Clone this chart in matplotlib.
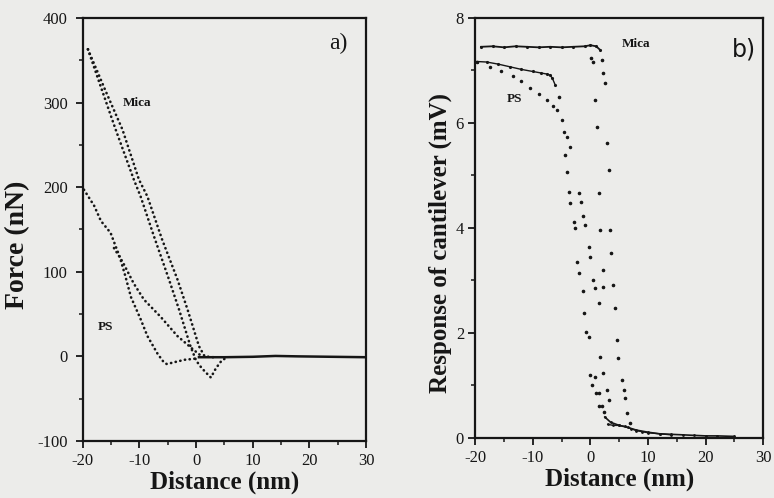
import matplotlib
matplotlib.use("Agg")
import matplotlib.pyplot as plt
from matplotlib.ticker import MultipleLocator

# ---------------- data: panel a) force curves ----------------
mica_a_x = [-19.1, -17, -14.2, -11, -9.8, -7.5, -4.8, -3, -1.0, 0, 1, 2, 2.6, 3.5, 4.5, 5.5]
mica_a_y = [363, 322, 268, 209, 189, 143, 91, 55, 12, -5, -14, -21, -25, -14, -5, -1]
mica_b_x = [-19.1, -16, -13, -10.1, -8.6, -6, -3.3, -1.5, 0.5, 1.5, 3]
mica_b_y = [363, 314, 268, 209, 189, 138, 91, 55, 12, 0, -1]
ps_a_x = [-19.8, -18, -16.8, -15.1, -14.2, -13.5, -12.5, -11.5, -9.8, -8.6, -6.8, -5.7, -5.2, -4.5, -3.3, -2, -0.5, 0.5]
ps_a_y = [197, 178, 160, 146, 130, 118, 95, 70, 44, 24, 3, -7, -9, -8, -6, -4, -3, -2]
ps_b_x = [-14.5, -13, -11, -9.2, -6.3, -3.3, -0.5, 1]
ps_b_y = [128, 112, 86, 67, 47, 24, 8, 0]
base_x = [0.5, 5, 10, 14, 18, 24, 30]
base_y = [-1, -1, -0.5, 0.5, 0, -0.5, -1]

# ---------------- data: panel b) cantilever response ----------------
mica_app_x = [-19, -17, -15, -13, -11, -9, -7, -5, -3, -1, 0, 1, 1.7]
mica_app_y = [7.45, 7.46, 7.44, 7.46, 7.45, 7.44, 7.45, 7.44, 7.45, 7.46, 7.48, 7.46, 7.39]
mica_r1_x = [2.0, 2.2, 2.57, 2.86, 3.15, 3.44, 3.6, 4.0, 4.3, 4.6, 4.78, 5.47, 5.75, 6.04, 6.34, 6.9]
mica_r1_y = [7.2, 6.95, 6.76, 5.61, 5.10, 3.96, 3.52, 2.91, 2.47, 1.87, 1.52, 1.10, 0.91, 0.76, 0.47, 0.28]
mica_r2_x = [0.14, 0.5, 0.83, 1.12, 1.41, 1.7, 2.17, 2.17, 1.41, 1.7, 2.1, 2.86, 3.15]
mica_r2_y = [7.23, 7.16, 6.44, 5.93, 4.66, 3.96, 3.2, 2.88, 2.57, 1.55, 1.23, 0.91, 0.72]
ps_up_x = [-19.7, -18, -16, -14, -12, -10, -8.5, -7.5, -7.0, -6.6, -6.1]
ps_up_y = [7.17, 7.16, 7.12, 7.07, 7.02, 6.98, 6.95, 6.93, 6.91, 6.85, 6.72]
ps_lo_x = [-19.7, -17.4, -15.5, -13.4, -12, -10.5, -9, -7.6, -6.5, -5.8, -4.95, -4.67, -4.1, -3.5]
ps_lo_y = [7.17, 7.07, 6.99, 6.89, 6.80, 6.66, 6.55, 6.44, 6.33, 6.25, 6.06, 5.83, 5.74, 5.55]
ps_d1_x = [-5.5, -4.4, -4.1, -3.8, -3.5, -2.93, -2.64, -2.35, -1.9, -1.3, -1.07, -0.7, -0.3, -0.15, 0.3, 1.0, 1.5, 2.3]
ps_d1_y = [6.5, 5.39, 5.07, 4.69, 4.47, 4.12, 4.0, 3.36, 3.14, 2.79, 2.38, 2.02, 1.93, 1.2, 1.0, 0.85, 0.6, 0.5]
ps_d2_x = [-2.06, -1.6, -1.2, -0.9, -0.3, 0.0, 0.37, 0.83, 0.83, 1.41, 2.0]
ps_d2_y = [4.66, 4.5, 4.22, 4.06, 3.64, 3.45, 3.01, 2.86, 1.17, 0.85, 0.6]
tail_x = [2.5, 3.5, 5, 6.5, 8, 10, 12, 14, 16, 18, 20, 22, 25]
tail_y = [0.40, 0.30, 0.24, 0.20, 0.15, 0.11, 0.08, 0.07, 0.06, 0.05, 0.04, 0.04, 0.03]
tail2_x = [3, 4, 5, 6, 7, 8, 9, 10, 12, 14]
tail2_y = [0.26, 0.24, 0.24, 0.22, 0.18, 0.14, 0.12, 0.10, 0.08, 0.06]

xticks = [-20, -10, 0, 10, 20, 30]

ink = "#161616"
bg = "#ececea"

plt.rcParams['font.family'] = ['Liberation Serif', 'DejaVu Serif']
plt.rcParams['axes.unicode_minus'] = False

fig = plt.figure(figsize=(7.74, 4.98), dpi=100, facecolor=bg)
ax1 = fig.add_axes([0.107, 0.1145, 0.366, 0.8495])
ax2 = fig.add_axes([0.614, 0.1205, 0.372, 0.8435])

for ax in (ax1, ax2):
    ax.set_facecolor(bg)
    for s in ax.spines.values():
        s.set_linewidth(1.6)
        s.set_color(ink)
    ax.tick_params(which='major', direction='out', length=5, width=1.3, colors=ink,
                   labelsize=12)
    ax.tick_params(axis='x', which='major', pad=4)
    ax.tick_params(which='minor', direction='out', length=3, width=1.1, colors=ink)
    ax.set_xlim(-20, 30)
    ax.set_xticks(xticks)
    ax.set_xticklabels([str(t) for t in xticks])
    ax.xaxis.set_minor_locator(MultipleLocator(5))
    ax.set_xlabel("Distance (nm)", fontsize=18, fontweight='bold', color=ink, labelpad=1)

ax1.tick_params(axis='y', which='major', pad=6)
ax2.tick_params(axis='y', which='major', pad=3)

# panel a
dot = dict(color=ink, linestyle=(0, (0.1, 1.7)), linewidth=1.9, dash_capstyle='round')
ax1.plot(mica_a_x, mica_a_y, **dot)
ax1.plot(mica_b_x, mica_b_y, **dot)
ax1.plot(ps_a_x, ps_a_y, **dot)
ax1.plot(ps_b_x, ps_b_y, **dot)
ax1.plot(base_x, base_y, color=ink, linewidth=1.8)
ax1.set_ylim(-100, 400)
ax1.yaxis.set_major_locator(MultipleLocator(100))
ax1.yaxis.set_minor_locator(MultipleLocator(50))
ax1.set_ylabel("Force (nN)", fontsize=20, fontweight='bold', color=ink)
ax1.yaxis.set_label_coords(-0.187, 0.463)
ax1.text(-13, 300, "Mica", fontsize=9.5, fontweight='bold', color=ink, va='center')
ax1.text(-17.3, 35, "PS", fontsize=9.5, fontweight='bold', color=ink, va='center')
ax1.text(23.5, 370, "a)", fontsize=17, color=ink, va='center')

# panel b
ax2.plot(mica_app_x, mica_app_y, color=ink, linewidth=1.3, marker='.', markersize=2.5)
ax2.plot(ps_up_x, ps_up_y, color=ink, linewidth=1.0, marker='.', markersize=2.5)
ax2.plot(ps_lo_x, ps_lo_y, color=ink, linestyle='none', marker='.', markersize=3)
for xs, ys in [(mica_r1_x, mica_r1_y), (mica_r2_x, mica_r2_y),
               (ps_d1_x, ps_d1_y), (ps_d2_x, ps_d2_y)]:
    ax2.plot(xs, ys, color=ink, linestyle='none', marker='.', markersize=3.2)
ax2.plot(tail_x, tail_y, color=ink, linewidth=1.2, marker='.', markersize=2)
ax2.plot(tail2_x, tail2_y, color=ink, linewidth=1.0, marker='.', markersize=2)
ax2.set_ylim(0, 8)
ax2.yaxis.set_major_locator(MultipleLocator(2))
ax2.yaxis.set_minor_locator(MultipleLocator(1))
ax2.set_ylabel("Response of cantilever (mV)", fontsize=18, fontweight='bold', color=ink)
ax2.yaxis.set_label_coords(-0.08, 0.464)
ax2.text(5.5, 7.5, "Mica", fontsize=9.5, fontweight='bold', color=ink, va='center')
ax2.text(-14.5, 6.45, "PS", fontsize=9.5, fontweight='bold', color=ink, va='center')
ax2.text(24.5, 7.4, "b)", fontsize=17, color=ink, va='center', family=['DejaVu Sans'])

fig.savefig("out.png", dpi=100, facecolor=bg)
